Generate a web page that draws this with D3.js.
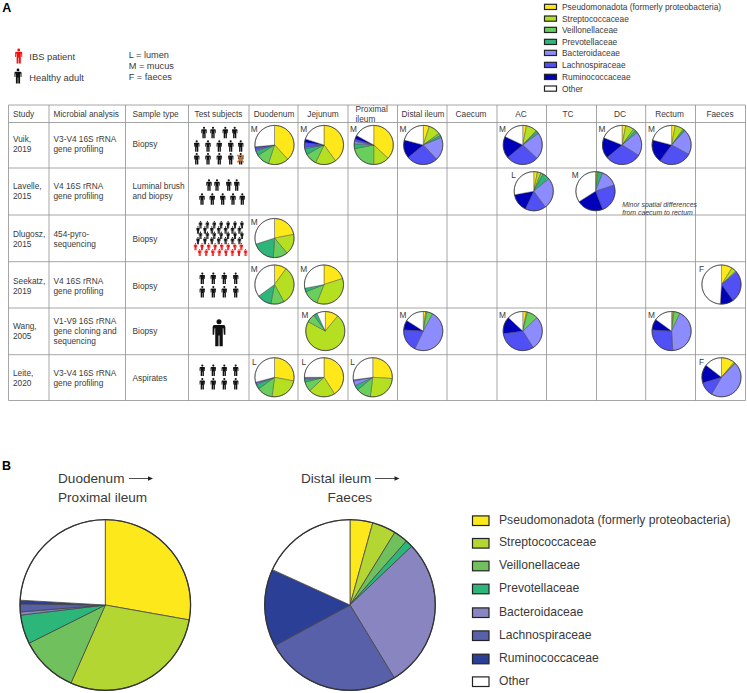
<!DOCTYPE html>
<html><head><meta charset="utf-8">
<style>html,body{margin:0;padding:0;background:#fff}svg{display:block}text{font-family:"Liberation Sans",Arial,sans-serif}</style>
<script src="https://cdn.jsdelivr.net/npm/d3@7"></script>
</head><body><svg id="c" width="747" height="693"></svg>
<script>
// ---------- data ----------
const taxa = ["Pseudomonadota (formerly proteobacteria)","Streptococcaceae","Veillonellaceae","Prevotellaceae","Bacteroidaceae","Lachnospiraceae","Ruminococcaceae","Other"];
const columns = ["Study","Microbial analysis","Sample type","Test subjects","Duodenum","Jejunum","Proximal ileum","Distal ileum","Caecum","AC","TC","DC","Rectum","Faeces"];
const studies = ["Vuik, 2019","Lavelle, 2015","Dlugosz, 2015","Seekatz, 2019","Wang, 2005","Leite, 2020"];
const analyses = ["V3-V4 16S rRNA|gene profiling","V4 16S rRNA|gene profiling","454-pyro-|sequencing","V4 16S rRNA|gene profiling","V1-V9 16S rRNA|gene cloning and|sequencing","V3-V4 16S rRNA|gene profiling"];
const samples = ["Biopsy","Luminal brush|and biopsy","Biopsy","Biopsy","Biopsy","Aspirates"];
const vuik = [
  ["Duodenum","M",[38,17,11,4,1,2,0.5,26.5]],
  ["Jejunum","M",[40,17,10,5,1,4,3,20]],
  ["Proximal ileum","M",[37,13,22,4,2,2,3,17]],
  ["Distal ileum","M",[5,10,2,2,19,26,15,21]],
  ["AC","M",[3,9,1,2,22,27,18,18]],
  ["DC","M",[3,7,2,2,20,30,17,19]],
  ["Rectum","M",[3,7,1,1,21,27,19,21]]];
const lavelle = [
  ["AC","L",[3,3,2,6,26,17,15,28]],
  ["TC","M",[1,1,0,4,14,24,22,34]]];
const dlugosz = [["Duodenum","M",[22,17,12,19,0,0,0,30]]];
const seekatz = [
  ["Duodenum","M",[10,32,11,12,0,0,0,35]],
  ["Jejunum","M",[20,36,13,3,0,0,0,28]],
  ["Faeces","F",[9,4,0,0,1,26,11,49]]];
const wang = [
  ["Jejunum","M",[11,72,7,3,0,0,0,7]],
  ["Distal ileum","M",[2,1,5,0,49,19,8,16]],
  ["AC","M",[3,1,9,0,28,32,14,13]],
  ["Rectum","M",[1,1,5,0,42,27,9,15]]];
const leite = [
  ["Duodenum","L",[28,24,13,4,1,1,0,29]],
  ["Jejunum","L",[41,22,8,2,1,1,0,25]],
  ["Proximal ileum","L",[26,26,12,4,4,1,0,27]],
  ["Faeces","F",[11,1,0.5,0,46,12,15,14.5]]];
const studyPies = [vuik,lavelle,dlugosz,seekatz,wang,leite];
const upperGut = [27.8,28.8,11,5.5,0.6,1.5,0.7,24.1];
const lowerGut = [4.3,4.5,2.7,1.4,28.4,25.8,14.7,18.2];
const sideNote = ["Minor spatial differences","from caecum to rectum"];
const siteKey = ["L = lumen","M = mucus","F = faeces"];
const subjectKey = ["IBS patient","Healthy adult"];

// ---------- layout and style ----------
const colEdges = [8.5,49,125.5,188.5,249,298,348,397.5,447,497,546.5,596.5,645.7,695.5,745.5];
const rowEdges = [105,122.5,168,215,261.7,308,354.7,400.5];
const rowTextShift = [-0.9,-0.6,0.65,1,-0.6,0.7];
const colourA = ["#ffe81a","#b5e021","#69cf5c","#2fb47a","#8c8cff","#5050f5","#0000b8","#ffffff"];
const colourB = ["#fde81c","#b4d632","#70c15e","#2cb679","#8985c0","#5760a9","#2b3f97","#ffffff"];
const ink = "#3a3a3a";
const svg = d3.select("#c");
const colMid = c => { const i = columns.indexOf(c); return (colEdges[i]+colEdges[i+1])/2; };
const rowMid = d3.scaleOrdinal(d3.range(6), d3.range(6).map(i => (rowEdges[i+1]+rowEdges[i+2])/2));
const pie = d3.pie().sort(null).value(d => d);
const nudge = {"1|AC":[11,0],"1|TC":[23,0],"5|Proximal ileum":[-1,0],"4|Jejunum":[1.3,0]};

function drawPie(g, cx, cy, r, values, colours, sw) {
  const arc = d3.arc().innerRadius(0).outerRadius(r);
  const p = g.append("g").attr("transform",`translate(${cx},${cy})`);
  p.selectAll("path").data(pie(values).filter(d => d.value>0)).join("path")
    .attr("d",arc).attr("fill",(d)=>colours[d.index])
    .attr("stroke","#444").attr("stroke-width",sw*0.6).attr("stroke-linejoin","round");
  p.append("circle").attr("r",r).attr("fill","none").attr("stroke","#333").attr("stroke-width",sw);
}
function lines(g, x, yMid, str, size, lh, fill) {
  const parts = str.split("|");
  parts.forEach((t,i)=>g.append("text").attr("x",x).attr("y",yMid+(i-(parts.length-1)/2)*lh+size*0.36)
    .attr("font-size",size).attr("fill",fill||ink).text(t));
}
function person(g, x, y, h, fill) {
  const s = h/28, w = g.append("g").attr("transform",`translate(${x},${y}) scale(${s}) translate(0,-14)`).attr("fill",fill);
  w.append("circle").attr("cx",0).attr("cy",2.6).attr("r",2.6);
  w.append("path").attr("d","M-4.6,6 Q-6.6,6 -6.6,8.2 L-6.6,16 L-5,16 L-4.6,9.5 L-3.9,9.5 L-3.9,28 L-0.5,28 L-0.5,17 L0.5,17 L0.5,28 L3.9,28 L3.9,9.5 L4.6,9.5 L5,16 L6.6,16 L6.6,8.2 Q6.6,6 4.6,6 Z");
}

// ---------- panel labels ----------
svg.append("text").attr("x",2.3).attr("y",11.7).attr("font-size",12.5).attr("font-weight","bold").attr("fill","#000").text("A");
svg.append("text").attr("x",2).attr("y",470).attr("font-size",12.5).attr("font-weight","bold").attr("fill","#000").text("B");

// ---------- top keys ----------
person(svg,18.7,56,15,"#f01010"); person(svg,18,76,15,"#111");
svg.append("text").attr("x",29.3).attr("y",60).attr("font-size",9.35).attr("fill",ink).text(subjectKey[0]);
svg.append("text").attr("x",29.3).attr("y",81).attr("font-size",9.35).attr("fill",ink).text(subjectKey[1]);
siteKey.forEach((t,i)=>svg.append("text").attr("x",128.7).attr("y",58+i*11.1).attr("font-size",9.2).attr("fill",ink).text(t));

const legA = svg.append("g");
taxa.forEach((t,i)=>{
  const y = [7,18.7,30,42,53,65,77,88.7][i];
  legA.append("rect").attr("x",544.5).attr("y",y-2.7).attr("width",12).attr("height",5.2).attr("fill",colourA[i]).attr("stroke","#222").attr("stroke-width",1.2);
  legA.append("text").attr("x",562).attr("y",y+3).attr("font-size",8.35).attr("fill",ink).text(t);
});

// ---------- table ----------
const grid = svg.append("g").attr("stroke","#8f8f8f").attr("stroke-width",0.8);
colEdges.forEach(x=>grid.append("line").attr("x1",x).attr("x2",x).attr("y1",rowEdges[0]).attr("y2",rowEdges[7]));
rowEdges.forEach(y=>grid.append("line").attr("x1",colEdges[0]).attr("x2",colEdges[14]).attr("y1",y).attr("y2",y));

const headCentre = {"Test subjects":218.5,"Duodenum":274,"Jejunum":323,"Distal ileum":423,"Caecum":471,"AC":521,"TC":568,"DC":620,"Rectum":669.5,"Faeces":720};
const headLeft = {"Study":13,"Microbial analysis":53.5,"Sample type":132.5};
columns.forEach(c=>{
  if (c==="Proximal ileum"){
    svg.append("text").attr("x",355.5).attr("y",112).attr("font-size",8.3).attr("fill",ink).text("Proximal");
    svg.append("text").attr("x",355.5).attr("y",122).attr("font-size",8.3).attr("fill",ink).text("ileum");
  } else if (headLeft[c]!==undefined){
    svg.append("text").attr("x",headLeft[c]).attr("y",117).attr("font-size",8.3).attr("fill",ink).text(c);
  } else {
    svg.append("text").attr("x",headCentre[c]).attr("y",117).attr("text-anchor","middle").attr("font-size",8.3).attr("fill",ink).text(c);
  }
});
studies.forEach((s,i)=>{
  const y = rowMid(i)+rowTextShift[i];
  lines(svg,13,y,s.replace(", ",",|"),8.3,10,ink);
  lines(svg,53.5,y,analyses[i],8.3,10,ink);
  lines(svg,132.5,y,samples[i],8.3,10,ink);
});

const pieRow = svg.append("g");
studyPies.forEach((list,i)=>{
  list.forEach(([site,tag,vals])=>{
    const n = nudge[i+"|"+site]||[0,0];
    const cx = colMid(site)+1+n[0], cy = rowMid(i)-0.3+n[1];
    drawPie(pieRow,cx,cy,19.6,vals,colourA,0.7);
    pieRow.append("text").attr("x",cx-(tag==="M"?23.7:22.5)).attr("y",cy-12.8).attr("font-size",8.3).attr("fill",ink).text(tag);
  });
});
svg.append("g").selectAll("text").data(sideNote).join("text")
  .attr("x",622.3).attr("y",(d,i)=>207+i*7.8).attr("font-size",6.9).attr("font-style","italic").attr("fill",ink).text(d=>d);

// ---------- test-subject icons ----------
const people = svg.append("g");
[[132.5,[204,213,225.3,234.7]],[146,[196.7,208,219.3,230.7,240.7]],[158.7,[196.7,208,219.3,230.7,240.7]],
 [185,[209,217,228.7,236.7]],[199,[202,212.3,222.7,233,242.3]],
 [278.3,[202.3,213.3,224.3,235.7]],[291.7,[202.3,213.3,224.3,235.7]],
 [370.3,[202.3,213.3,224.3,235.7]],[383.7,[202.3,213.3,224.3,235.7]]]
 .forEach(([y,xs])=>xs.forEach(x=>person(people,x,y,11.5,"#111")));
people.append("path").attr("d","M237.5,155 L243.5,162.5 M243.5,155 L237.5,162.5").attr("stroke","#d9702a").attr("stroke-width",1.6);
[[224.7,200.5],[230,198],[235.3,200.5],[240.6,198]].forEach(([y,x0])=>{
  d3.range(7).forEach(k=>person(people,x0+k*6.9,y,7.4,"#111"));
});
[[246.7,195.5],[252.5,199.7]].forEach(([y,x0])=>{
  d3.range(8).forEach(k=>person(people,x0+k*6.55,y,7.2,"#f01010"));
});
person(people,219,332.7,27,"#111");

// ---------- panel B ----------
function title(x,y,t){ svg.append("text").attr("x",x).attr("y",y).attr("fill",ink).attr("font-size",13.6).text(t); }
title(58,483,"Duodenum"); title(58,502,"Proximal ileum");
title(301,483,"Distal ileum"); title(327.5,502,"Faeces");
function arrow(x1,x2,y){
  svg.append("line").attr("x1",x1).attr("x2",x2-3).attr("y1",y).attr("y2",y).attr("stroke","#222").attr("stroke-width",0.8);
  svg.append("path").attr("d",`M${x2},${y} L${x2-5},${y-2.2} L${x2-5},${y+2.2} Z`).attr("fill","#222");
}
arrow(129,153,478.5); arrow(375,399.5,478.5);
const pieB = svg.append("g");
drawPie(pieB,105.3,605,85.3,upperGut,colourB,1.3);
drawPie(pieB,350,605,85.3,lowerGut,colourB,1.3);
const legB = svg.append("g");
taxa.forEach((t,i)=>{
  const y = [520.7,543.3,566,589,612.7,635.7,659,681.7][i];
  legB.append("rect").attr("x",472.5).attr("y",y-4.8).attr("width",16.5).attr("height",9.6).attr("fill",colourB[i]).attr("stroke","#222").attr("stroke-width",1.2);
  legB.append("text").attr("x",499).attr("y",y+3).attr("font-size",12.15).attr("fill",ink).text(t);
});
</script></body></html>
